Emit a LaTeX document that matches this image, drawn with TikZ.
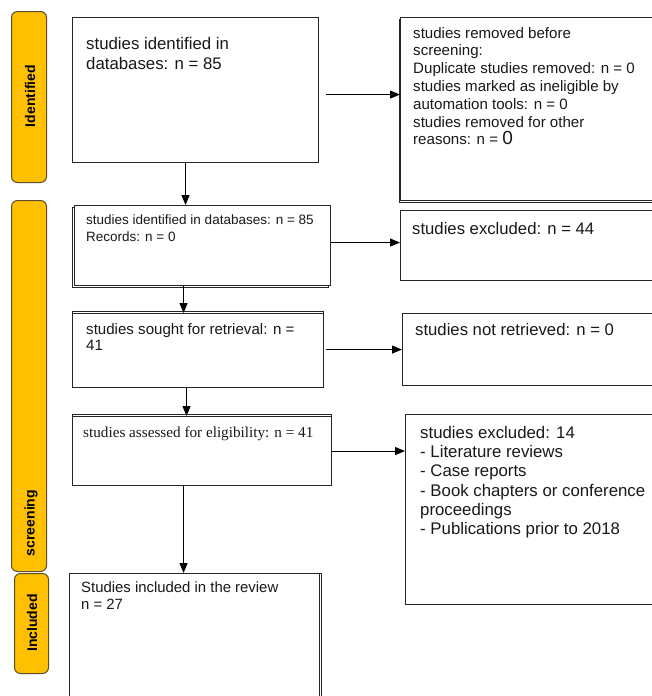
\documentclass[tikz,border=0pt]{standalone}
\usepackage{fontspec}
\setmainfont{Liberation Sans}
\newfontfamily\timesfont{Liberation Serif}
\usetikzlibrary{arrows.meta,shadows}
\definecolor{stageyellow}{RGB}{255,192,0}
\definecolor{stageedge}{RGB}{95,80,45}

\begin{document}
\begin{tikzpicture}[x=1pt, y=-1pt,
	box/.style={rectangle, draw=black!85, line width=1.1pt, fill=white, anchor=north west, inner sep=0pt},
	txt/.style={anchor=north west, inner sep=0pt, align=left, text=black!90},
	stage/.style={rectangle, draw=stageedge, line width=1pt, fill=stageyellow, rounded corners=6pt, anchor=north west, inner sep=0pt},
	stagetxt/.style={rotate=90, inner sep=0pt, font=\fontsize{14}{16}\selectfont\bfseries},
	arr/.style={line width=1.1pt, -{Triangle[length=10pt,width=8pt]}}]
	
	\useasboundingbox (0,0) rectangle (652,696);
	
	% Stages
	\node[stage, minimum width=35pt, minimum height=171pt] (bar1) at (11,11) {};
	\node[stage, minimum width=35pt, minimum height=371pt] (bar2) at (11,200) {};
	\node[stage, minimum width=34pt, minimum height=100pt] (bar3) at (14,573) {};
	\node[stagetxt] (lab1) at (30,96) {Identified};
	\node[stagetxt] (lab2) at (31,523) {screening};
	\node[stagetxt] (lab3) at (32,623) {Included};
	
	% Boxes
	\node[box, minimum width=246pt, minimum height=145pt] (b1) at (72,17) {};
	\node[box, minimum width=262pt, minimum height=183pt, copy shadow={shadow xshift=-1pt, shadow yshift=-2pt}] (r1) at (400,17) {};
	\node[box, minimum width=256pt, minimum height=80pt, copy shadow={shadow xshift=-2.5pt, shadow yshift=-2pt}] (b2) at (74,205) {};
	\node[box, minimum width=262pt, minimum height=70pt] (r2) at (400,210) {};
	\node[box, minimum width=251pt, minimum height=74pt, copy shadow={shadow xshift=0pt, shadow yshift=2pt}] (b3) at (72,313) {};
	\node[box, minimum width=262pt, minimum height=72pt] (r3) at (402,313) {};
	\node[box, minimum width=259pt, minimum height=69pt, copy shadow={shadow xshift=0pt, shadow yshift=2pt}] (b4) at (72,416) {};
	\node[box, minimum width=257pt, minimum height=190pt] (r4) at (405,414) {};
	\node[box, minimum width=250pt, minimum height=140pt, copy shadow={shadow xshift=2pt, shadow yshift=0pt}] (b5) at (69,573) {};
	
	% Texts
	\node[txt, font=\fontsize{16.8}{20}\selectfont] (t1) at (86,37) {studies identified in\\databases: n = 85};
	\node[txt, font=\fontsize{15.1}{17.8}\selectfont] (tr1) at (413,27) {studies removed before\\screening:\\Duplicate studies removed: n = 0\\studies marked as ineligible by\\automation tools: n = 0\\studies removed for other\\reasons: n = {\fontsize{19}{19}\selectfont 0}};
	\node[txt, font=\fontsize{13.5}{17}\selectfont] (t2) at (86,215) {studies identified in databases: n = 85\\Records: n = 0};
	\node[txt, font=\fontsize{16.7}{20}\selectfont] (tr2) at (412,222) {studies excluded: n = 44};
	\node[txt, font=\fontsize{15.1}{16.7}\selectfont] (t3) at (86,323) {studies sought for retrieval: n =\\41};
	\node[txt, font=\fontsize{16.7}{20}\selectfont] (tr3) at (415,323) {studies not retrieved: n = 0};
	\node[txt, font=\timesfont\fontsize{15.2}{18}\selectfont] (t4) at (83,427) {studies assessed for eligibility: n = 41};
	\node[txt, font=\fontsize{16.8}{19.3}\selectfont] (tr4) at (420,426) {studies excluded: 14\\- Literature reviews\\- Case reports\\- Book chapters or conference\\proceedings\\- Publications prior to 2018};
	\node[txt, font=\fontsize{14.9}{17.3}\selectfont] (t5) at (81,581) {Studies included in the review\\n = 27};
	
	% Edges
	\draw[arr] ([xshift=-10pt]b1.south) -- ([xshift=-10pt]b1.south |- b2.north);
	\draw[arr] ([xshift=-19pt]b2.south) -- ([xshift=-19pt]b2.south |- b3.north);
	\draw[arr] ([xshift=-11.5pt]b3.south) -- ([xshift=-11.5pt]b3.south |- b4.north);
	\draw[arr] ([xshift=-18.5pt]b4.south) -- ([xshift=-18.5pt]b4.south |- b5.north);
	
	\draw[arr] ([xshift=7pt,yshift=-4.5pt]b1.east) -- ([yshift=-4.5pt]b1.east -| r1.west);
	\draw[arr] ([yshift=3pt]b2.east) -- ([yshift=3pt]b2.east -| r2.west);
	\draw[arr] ([xshift=2pt,yshift=1pt]b3.east) -- ([yshift=1pt]b3.east -| r3.west);
	\draw[arr] (b4.east) -- (b4.east -| r4.west);
	
\end{tikzpicture}
\end{document}
